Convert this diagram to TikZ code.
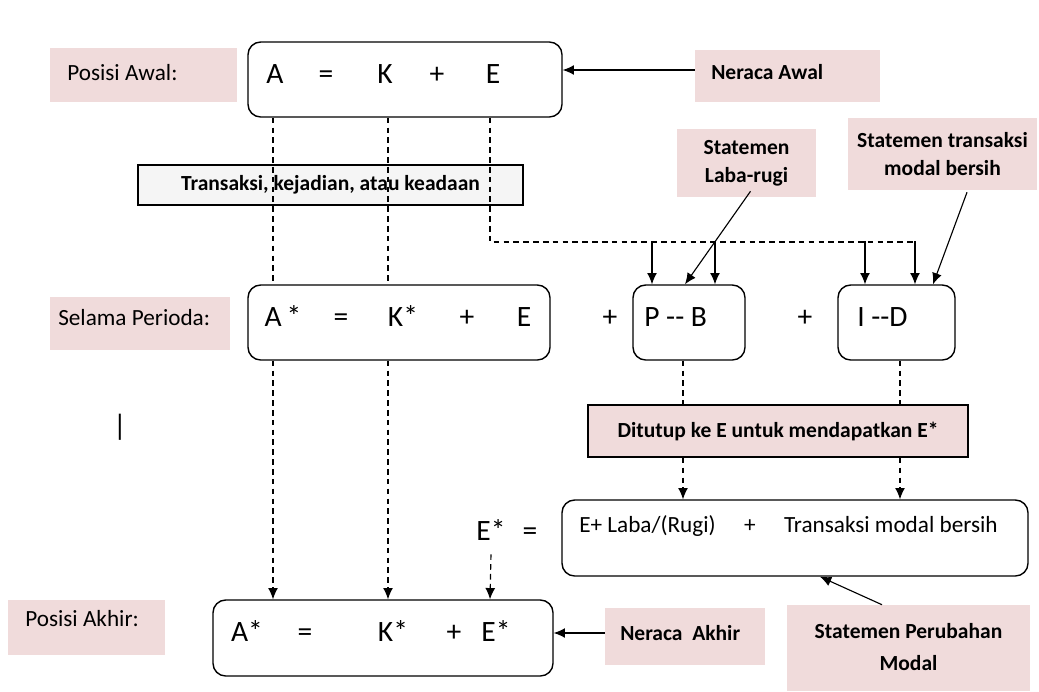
\documentclass[tikz,border=0pt]{standalone}
\usepackage{fontspec}
\setmainfont{Carlito}
\usepackage{xcolor}
\usetikzlibrary{positioning,calc,arrows.meta}
\definecolor{pinkbg}{RGB}{240,219,219}
\def\u{0.025cm} % one pixel

\begin{document}
\begin{tikzpicture}[x=\u,y=-\u,
    pinkbox/.style={fill=pinkbg, inner sep=0pt},
    rbox/.style={draw, rounded corners=9pt, line width=1pt, fill=white, inner sep=0pt},
    eq/.style={font=\fontsize{21}{25}\selectfont, inner sep=0pt, anchor=base},
    lab/.style={font=\fontsize{16.5}{19}\selectfont, inner sep=0pt, anchor=base west},
    blab/.style={font=\bfseries\fontsize{15.3}{19}\selectfont, align=center, inner sep=0pt},
    dline/.style={dash pattern=on 4pt off 3pt, line width=0.8pt},
    tip/.style={-{Latex[length=8pt,width=7pt]}},
    sline/.style={line width=0.8pt, tip}]

  \fill[white] (0,0) rectangle (1039,691);
  \useasboundingbox (0,0) rectangle (1039,691);

  % label boxes
  \node[pinkbox, minimum width={187*\u}, minimum height={54*\u}] (PA) at (143.5,75) {};
  \node[pinkbox, minimum width={185*\u}, minimum height={52*\u}] (NA) at (787.5,76) {};
  \node[pinkbox, minimum width={139*\u}, minimum height={68*\u}] (SL) at (746.5,163) {};
  \node[pinkbox, minimum width={189*\u}, minimum height={72*\u}] (ST) at (942.5,154) {};
  \node[pinkbox, minimum width={180*\u}, minimum height={53*\u}] (SP) at (140,323.5) {};
  \node[pinkbox, minimum width={157*\u}, minimum height={55*\u}] (PK) at (86.5,627.5) {};
  \node[pinkbox, minimum width={160*\u}, minimum height={57*\u}] (NK) at (685,636.5) {};
  \node[pinkbox, minimum width={243*\u}, minimum height={86*\u}] (SM) at (908.5,648) {};

  % texts of the label boxes
  \node[lab] (tPA) at (67,80) {Posisi Awal:};
  \node[blab, anchor=west] (tNA) at (711,72) {Neraca Awal};
  \node[blab] (tSL) at (SL) {Statemen\\[1pt]Laba-rugi};
  \node[blab] (tST) at (ST) {Statemen transaksi\\[1pt]modal bersih};
  \node[lab] (tSP) at (58,325) {Selama Perioda:};
  \node[lab] (tPK) at (25,626) {Posisi Akhir:};
  \node[blab, anchor=west] (tNK) at (620,633) {Neraca\ \ Akhir};
  \node[blab] (tSM) at (908.5,647) {Statemen Perubahan\\[4pt]Modal};

  % transaksi box
  \node[draw, line width=1pt, fill=gray!8, minimum width={385*\u}, minimum height={40*\u},
        blab] (TR) at (330.5,185) {Transaksi, kejadian, atau keadaan};

  % x of the dashed lines
  \coordinate (xA) at (273,0);
  \coordinate (xK) at (388,0);
  \coordinate (xE) at (490,0);
  \coordinate (xP) at (683,0);
  \coordinate (xI) at (900,0);
  \coordinate (yH) at (0,242); % height of the turn
  \coordinate (H) at (913,242);

  % boxes
  \node[rbox, minimum width={314*\u}, minimum height={75*\u}] (TOP) at (405,79.5) {};
  \node[rbox, minimum width={302*\u}, minimum height={75*\u}] (MID) at (399,322.5) {};
  \node[rbox, minimum width={112*\u}, minimum height={75*\u}] (PB) at (689,322.5) {};
  \node[rbox, minimum width={117*\u}, minimum height={75*\u}] (ID) at (896.5,322.5) {};
  \node[rbox, minimum width={466*\u}, minimum height={76*\u}] (FM) at (795,538) {};
  \node[rbox, minimum width={340*\u}, minimum height={76*\u}] (BOT) at (383,638) {};
  \node[draw, line width=1.2pt, fill=pinkbg, minimum width={380*\u}, minimum height={52*\u},
        blab] (DT) at (778,431) {Ditutup ke E untuk mendapatkan E*};

  % dashed lines from the top box
  \draw[dline] (TOP.south -| xA) -- (MID.north -| xA);
  \draw[dline, tip] (MID.south -| xA) -- (BOT.north -| xA);
  \draw[dline] (TOP.south -| xK) -- (MID.north -| xK);
  \draw[dline, tip] (MID.south -| xK) -- (BOT.north -| xK);
  \draw[dline] (TOP.south -| xE) -- (yH -| xE) -- (H);

  % arrows into P--B and I--D
  \draw[sline] ($(PB.north)+(-37,-43)$) -- ($(PB.north)+(-37,0)$);
  \draw[sline] ($(PB.north)+(26,-43)$) -- ($(PB.north)+(26,0)$);
  \draw[sline] ($(ID.north)+(-31.5,-43)$) -- ($(ID.north)+(-31.5,0)$);
  \draw[sline] ($(ID.north)+(18.5,-43)$) -- ($(ID.north)+(18.5,0)$);
  \draw[sline] ($(SL.south)+(4,-6)$) -- ($(PB.north)+(-4,0)$);
  \draw[sline] ($(ST.south)+(24.5,2)$) -- ($(ID.north)+(36.5,0)$);

  % closing into E
  \draw[dline] (PB.south -| xP) -- (DT.north -| xP);
  \draw[dline] (ID.south -| xI) -- (DT.north -| xI);
  \draw[dline, tip] (DT.south -| xP) -- (FM.north -| xP);
  \draw[dline, tip] (DT.south -| xI) -- (FM.north -| xI);

  % top equation
  \node[eq] (A0) at (275,83) {A};
  \node[eq] (Q0) at (326,83) {=};
  \node[eq] (K0) at (385,83) {K};
  \node[eq] (P0) at (437,83) {+};
  \node[eq] (E0) at (493,83) {E};

  % equation during the period
  \node[eq] (A1) at (283,326) {A\,*};
  \node[eq] (Q1) at (341,326) {=};
  \node[eq] (K1) at (403,326) {K*};
  \node[eq] (P1) at (467,326) {+};
  \node[eq] (E1) at (524,326) {E};
  \node[eq] (P2) at (610,326) {+};
  \node[eq] (P3) at (805,326) {+};
  \node[eq, anchor=base west] (PBt) at (644,326) {P -{}- B};
  \node[eq, anchor=base west] (IDt) at (857,326) {I -{}-D};

  % E star
  \node[lab] (FMt) at (579,532) {E+ Laba/(Rugi)\quad\ +\quad\ Transaksi modal bersih};
  \node[eq] (Es) at (491,540) {E*};
  \node[eq] (Qs) at (530,540) {=};
  \draw[dline, tip] ($(Es.south)+(0,14)$) -- (BOT.north -| xE);
  \node[eq] (bar) at (120,435) {|};

  % end equation
  \node[eq] (A2) at (247,641) {A*};
  \node[eq] (Q2) at (305,641) {=};
  \node[eq] (K2) at (393,641) {K*};
  \node[eq] (P4) at (454,641) {+};
  \node[eq] (E2) at (496,641) {E*};

  % statements
  \draw[sline] (NA.west |- 0,70) -- (TOP.east |- 0,70);
  \draw[sline] (NK.west |- 0,633) -- (BOT.east |- 0,633);
  \draw[sline] ($(SM.north)+(-26.5,0)$) -- ($(FM.south)+(25,0)$);

\end{tikzpicture}
\end{document}
